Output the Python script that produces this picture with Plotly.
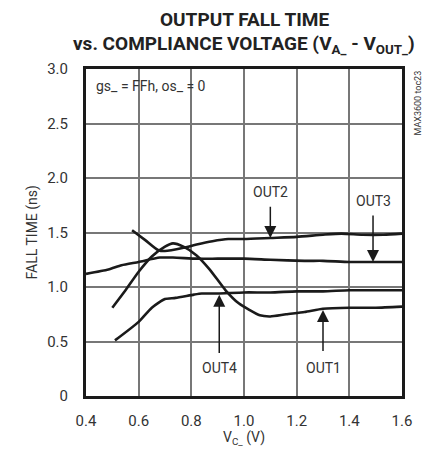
import plotly.graph_objects as go

# Data
out1_x = [0.50, 0.55, 0.60, 0.65, 0.70, 0.73, 0.77, 0.82, 0.87, 0.93, 0.98, 1.02, 1.06, 1.10, 1.16, 1.23, 1.30, 1.40, 1.50, 1.60]
out1_y = [0.81, 0.97, 1.14, 1.28, 1.37, 1.40, 1.37, 1.29, 1.16, 0.97, 0.85, 0.79, 0.74, 0.73, 0.75, 0.77, 0.80, 0.81, 0.81, 0.82]

out2_x = [0.575, 0.625, 0.673, 0.70, 0.77, 0.82, 0.88, 0.94, 1.00, 1.10, 1.20, 1.30, 1.37, 1.45, 1.53, 1.60]
out2_y = [1.52, 1.43, 1.34, 1.33, 1.36, 1.39, 1.42, 1.44, 1.44, 1.45, 1.46, 1.48, 1.49, 1.48, 1.48, 1.49]

out3_x = [0.40, 0.485, 0.535, 0.60, 0.68, 0.73, 0.82, 0.90, 1.00, 1.10, 1.23, 1.30, 1.40, 1.50, 1.60]
out3_y = [1.12, 1.16, 1.20, 1.23, 1.27, 1.27, 1.26, 1.26, 1.26, 1.25, 1.24, 1.24, 1.23, 1.23, 1.23]

out4_x = [0.51, 0.60, 0.65, 0.70, 0.74, 0.81, 0.84, 0.90, 1.00, 1.10, 1.20, 1.30, 1.40, 1.50, 1.60]
out4_y = [0.51, 0.68, 0.81, 0.89, 0.90, 0.93, 0.94, 0.94, 0.95, 0.95, 0.96, 0.96, 0.97, 0.97, 0.97]

x_ticks = [0.4, 0.6, 0.8, 1.0, 1.2, 1.4, 1.6]
x_tick_labels = ["0.4", "0.6", "0.8", "1.0", "1.2", "1.4", "1.6"]
y_ticks = [0, 0.5, 1.0, 1.5, 2.0, 2.5, 3.0]
y_tick_labels = ["0", "0.5", "1.0", "1.5", "2.0", "2.5", "3.0"]

# label annotations: (text, x, tip_y, tail_y, label_y, anchor)
labels = [
    ("OUT2", 1.10, 1.45, 1.75, 1.78, "bottom"),
    ("OUT3", 1.49, 1.23, 1.67, 1.70, "bottom"),
    ("OUT4", 0.906, 0.93, 0.38, 0.35, "top"),
    ("OUT1", 1.30, 0.79, 0.40, 0.35, "top"),
]

FONT = "Roboto, Liberation Sans, sans-serif"

fig = go.Figure()
for xs, ys in [(out1_x, out1_y), (out2_x, out2_y), (out3_x, out3_y), (out4_x, out4_y)]:
    fig.add_trace(go.Scatter(x=xs, y=ys, mode="lines",
                             line=dict(color="#1a1a1a", width=2.6, shape="spline", smoothing=0.6),
                             showlegend=False, hoverinfo="skip"))

for text, x, tip, tail, ly, anc in labels:
    fig.add_annotation(x=x, y=tip, ax=x, ay=tail, xref="x", yref="y", axref="x", ayref="y",
                       text="", showarrow=True, arrowhead=2, arrowsize=1.6, arrowwidth=1.5,
                       arrowcolor="#1a1a1a")
    fig.add_annotation(x=x, y=ly, xref="x", yref="y", text=text, showarrow=False, yanchor=anc,
                       font=dict(family=FONT, size=14, color="#333"))

fig.add_annotation(x=0.43, y=2.84, xref="x", yref="y", xanchor="left", text="gs_ = FFh, os_ = 0",
                   showarrow=False, font=dict(family=FONT, size=14, color="#333"))

fig.add_annotation(x=1.0, y=1.0, xref="paper", yref="paper", xshift=15, yanchor="top", xanchor="center",
                   text="MAX3600 toc23", textangle=-90, showarrow=False,
                   font=dict(family=FONT, size=9, color="#333"))

fig.add_annotation(x=0.5, y=1.0, xref="paper", yref="paper", yshift=36, yanchor="bottom",
                   text="<b>OUTPUT FALL TIME</b>", showarrow=False,
                   font=dict(family=FONT, size=19, color="#222", weight=900))
fig.add_annotation(x=0.5, y=1.0, xref="paper", yref="paper", yshift=10, yanchor="bottom",
                   text="<b>vs. COMPLIANCE VOLTAGE (V<sub>A_</sub> - V<sub>OUT_</sub>)</b>", showarrow=False,
                   font=dict(family=FONT, size=19, color="#222", weight=900))

fig.add_annotation(x=0.5, y=0, xref="paper", yref="paper", yshift=-31, yanchor="top",
                   text="V<sub>C_</sub> (V)", showarrow=False,
                   font=dict(family=FONT, size=14, color="#333"))
fig.add_annotation(x=0, y=0.5, xref="paper", yref="paper", xshift=-54, xanchor="center",
                   text="FALL TIME (ns)", textangle=-90, showarrow=False,
                   font=dict(family=FONT, size=14, color="#333"))

fig.update_xaxes(range=[0.4, 1.6], tickvals=x_ticks, ticktext=x_tick_labels,
                 showgrid=True, gridcolor="#777", gridwidth=1.5,
                 showline=True, linecolor="#1a1a1a", linewidth=3, mirror=True,
                 ticks="", ticklabelstandoff=9, zeroline=False,
                 tickfont=dict(family=FONT, size=15, color="#333"))
fig.update_yaxes(range=[0, 3.0], tickvals=y_ticks, ticktext=y_tick_labels,
                 showgrid=True, gridcolor="#777", gridwidth=1.5,
                 showline=True, linecolor="#1a1a1a", linewidth=3, mirror=True,
                 ticks="", ticklabelstandoff=12, zeroline=False,
                 tickfont=dict(family=FONT, size=15, color="#333"))

fig.update_layout(width=424, height=460, margin=dict(l=86, r=13, t=69, b=64),
                  plot_bgcolor="white", paper_bgcolor="white", showlegend=False)

fig.write_html("out.html", config={"displayModeBar": False},
               post_script="document.body.style.margin='0';")
